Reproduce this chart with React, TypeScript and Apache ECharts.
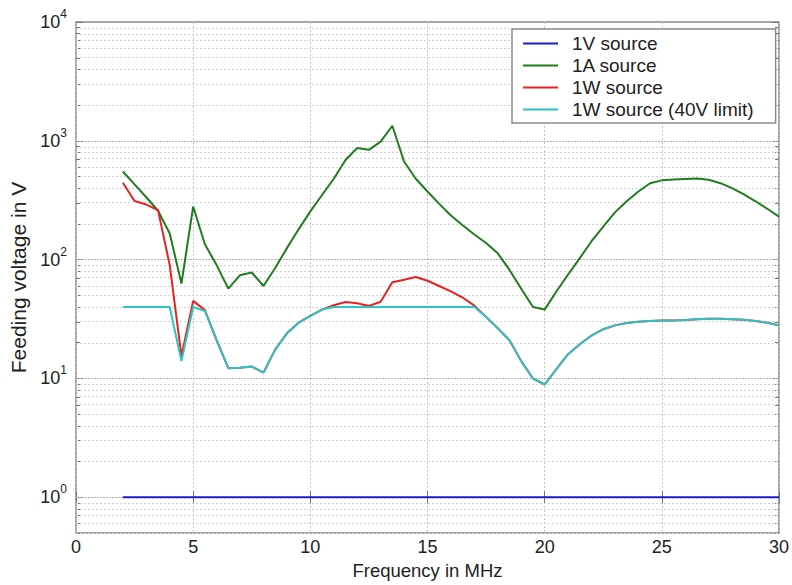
import React, { useEffect, useRef } from "react";
import * as echarts from "echarts";

// Frequency in MHz
const freq = [
  2, 2.5, 3, 3.5, 4, 4.5, 5, 5.5, 6, 6.5, 7, 7.5, 8, 8.5, 9, 9.5, 10, 10.5, 11, 11.5,
  12, 12.5, 13, 13.5, 14, 14.5, 15, 15.5, 16, 16.5, 17, 17.5, 18, 18.5, 19, 19.5, 20,
  20.5, 21, 21.5, 22, 22.5, 23, 23.5, 24, 24.5, 25, 25.5, 26, 26.5, 27, 27.5, 28, 28.5,
  29, 29.5, 30,
];

// Feeding voltage in V
const source1V = [
  1, 1, 1, 1, 1, 1, 1, 1, 1, 1, 1, 1, 1, 1, 1, 1, 1, 1, 1, 1, 1, 1, 1, 1, 1, 1, 1, 1, 1,
  1, 1, 1, 1, 1, 1, 1, 1, 1, 1, 1, 1, 1, 1, 1, 1, 1, 1, 1, 1, 1, 1, 1, 1, 1, 1, 1, 1,
];
const source1A = [
  552, 430, 335, 258, 166, 63, 280, 135, 90, 57, 74, 78, 60, 85, 125, 180, 255, 350, 480,
  690, 870, 840, 985, 1340, 670, 480, 375, 295, 235, 195, 163, 138, 113, 82, 57, 40, 38,
  54, 75, 103, 143, 190, 250, 310, 375, 440, 465, 472, 478, 482, 470, 440, 400, 355, 310,
  268, 230,
];
const source1W = [
  444, 312, 291, 261, 90, 15.5, 45, 37.6, 21, 12.2, 12.3, 12.6, 11.2, 17.5, 24, 29.5,
  33.6, 38, 41.4, 44, 43, 40.7, 44.2, 64.5, 67.8, 71.4, 66.5, 60, 54, 48, 41, 33, 26.5,
  21, 14, 10, 8.9, 12, 16, 19.4, 23, 26, 28, 29.3, 30, 30.5, 30.8, 30.8, 31, 31.5, 31.8,
  31.8, 31.5, 31.2, 30.5, 29.5, 28,
];
const source1W40 = [
  40, 40, 40, 40, 40, 14, 40, 37, 21, 12.2, 12.3, 12.6, 11.2, 17.5, 24, 29.5, 33.6, 38,
  40, 40, 40, 40, 40, 40, 40, 40, 40, 40, 40, 40, 40, 33, 26.5, 21, 14, 10, 8.9, 12, 16,
  19.4, 23, 26, 28, 29.3, 30, 30.5, 30.8, 30.8, 31, 31.5, 31.8, 31.8, 31.5, 31.2, 30.5,
  29.5, 28,
];

const seriesNames = ["1V source", "1A source", "1W source", "1W source (40V limit)"];
const seriesColors = ["#1c1ccc", "#1f7d1f", "#e62222", "#2ec4c4"];
const seriesValues = [source1V, source1A, source1W, source1W40];

const yMinValue = 0.5;
const yMaxValue = 10000;
const majorExponents = [0, 1, 2, 3, 4];

const FONT = "'Liberation Sans', Arial, Helvetica, sans-serif";

export default function App() {
  const ref = useRef<HTMLDivElement>(null);

  useEffect(() => {
    if (!ref.current) return;
    const chart = echarts.init(ref.current, null, { renderer: "svg" });

    const yMin = Math.log10(yMinValue);
    const yMax = Math.log10(yMaxValue);
    const minorTicks: number[] = [];
    for (let n = -1; n <= 3; n++) {
      for (let k = 2; k <= 9; k++) {
        const v = Math.log10(k * Math.pow(10, n));
        if (v >= yMin - 1e-9 && v <= yMax) minorTicks.push(v);
      }
    }
    const majorGrid = majorExponents.filter((e) => e > yMin && e < yMax);

    const gridLines = [
      ...minorTicks.map((v) => ({
        yAxis: v,
        lineStyle: { color: "#d2d2d2", type: [2, 2], width: 1 },
      })),
      ...majorGrid.map((v) => ({
        yAxis: v,
        lineStyle: { color: "#b0b0b0", type: [2, 1], width: 1 },
      })),
    ];

    const toPairs = (vals: number[]) => freq.map((f, i) => [f, Math.log10(vals[i])]);

    const tickColor = "#777";
    const baseY = {
      type: "value" as const,
      min: yMin,
      max: yMax,
      axisLine: { show: false },
      splitLine: { show: false },
    };

    const option: any = {
      animation: false,
      backgroundColor: "#fff",
      grid: {
        left: 76,
        right: 13,
        top: 22,
        bottom: 48,
        show: true,
        borderColor: "#8a8a8a",
        borderWidth: 1.5,
        backgroundColor: "transparent",
      },
      legend: {
        left: 512,
        top: 29,
        orient: "vertical",
        data: seriesNames,
        icon: "rect",
        itemWidth: 35,
        itemHeight: 2,
        itemGap: 3,
        padding: [5, 22, 4, 11],
        borderColor: "#8a8a8a",
        borderWidth: 1.5,
        backgroundColor: "#fff",
        selectedMode: false,
        z: 20,
        textStyle: {
          fontSize: 19,
          fontFamily: FONT,
          color: "#222",
          padding: [0, 0, 0, 9],
        },
      },
      xAxis: [
        {
          type: "value",
          min: 0,
          max: 30,
          interval: 5,
          position: "bottom",
          name: "Frequency in MHz",
          nameLocation: "middle",
          nameGap: 25,
          nameTextStyle: { fontSize: 18.5, fontFamily: FONT, color: "#222" },
          axisLine: { show: false },
          axisTick: { inside: true, length: 6, lineStyle: { color: tickColor } },
          axisLabel: { fontSize: 18, fontFamily: FONT, color: "#222", margin: 5 },
          splitLine: {
            show: true,
            lineStyle: { color: "#c4c4c4", type: [2, 2], width: 1 },
          },
        },
        {
          type: "value",
          min: 0,
          max: 30,
          interval: 5,
          position: "top",
          axisLine: { show: false },
          axisTick: { inside: true, length: 6, lineStyle: { color: tickColor } },
          axisLabel: { show: false },
          splitLine: { show: false },
        },
      ],
      yAxis: [
        {
          ...baseY,
          position: "left",
          name: "Feeding voltage in V",
          nameLocation: "middle",
          nameGap: 40,
          nameTextStyle: { fontSize: 21, fontFamily: FONT, color: "#222" },
          axisTick: {
            inside: true,
            length: 7,
            customValues: majorExponents,
            lineStyle: { color: tickColor },
          },
          axisLabel: {
            customValues: majorExponents,
            margin: 9,
            formatter: (v: number) => `{b|10}{s|${Math.round(v)}}`,
            rich: {
              b: { fontSize: 18, fontFamily: FONT, color: "#222" },
              s: { fontSize: 12, fontFamily: FONT, color: "#222", padding: [0, 0, 16, 0] },
            },
          },
        },
        {
          ...baseY,
          position: "left",
          axisTick: {
            inside: true,
            length: 4,
            customValues: minorTicks,
            lineStyle: { color: tickColor },
          },
          axisLabel: { show: false },
        },
        {
          ...baseY,
          position: "right",
          axisTick: {
            inside: true,
            length: 7,
            customValues: majorExponents,
            lineStyle: { color: tickColor },
          },
          axisLabel: { show: false },
        },
        {
          ...baseY,
          position: "right",
          axisTick: {
            inside: true,
            length: 4,
            customValues: minorTicks,
            lineStyle: { color: tickColor },
          },
          axisLabel: { show: false },
        },
      ],
      series: [
        {
          name: "grid",
          type: "line",
          data: toPairs(source1V),
          symbol: "none",
          silent: true,
          z: 1,
          lineStyle: { opacity: 0 },
          markLine: {
            silent: true,
            z: 1,
            symbol: ["none", "none"],
            label: { show: false },
            animation: false,
            data: gridLines,
          },
        },
        ...seriesNames.map((name, i) => ({
          name,
          type: "line",
          data: toPairs(seriesValues[i]),
          symbol: "none",
          z: 10 + i,
          color: seriesColors[i],
          lineStyle: { color: seriesColors[i], width: 2 },
        })),
      ],
    };

    chart.setOption(option);
    return () => chart.dispose();
  }, []);

  return (
    <div
      ref={ref}
      style={{ position: "absolute", left: 0, top: 0, width: 792, height: 585 }}
    />
  );
}
